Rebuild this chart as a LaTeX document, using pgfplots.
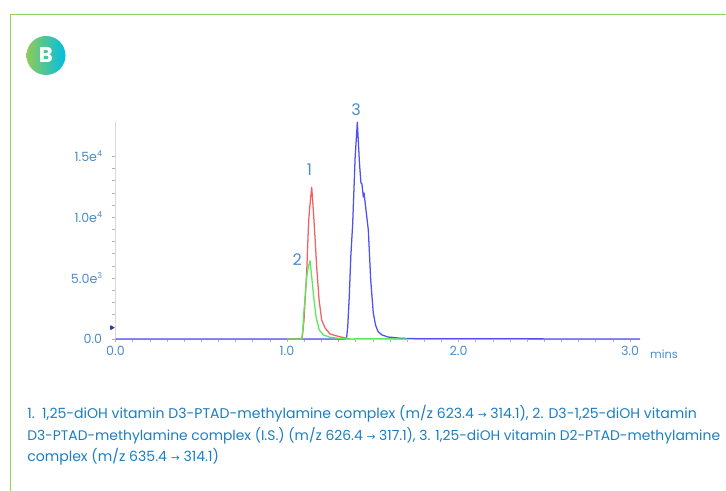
\documentclass[border=0pt]{standalone}
\usepackage{fontspec}
\setmainfont{Poppins}
\newfontfamily\sym{DejaVu Sans}
\usepackage{pgfplots}
\pgfplotsset{compat=1.18}
\definecolor{framegreen}{HTML}{8FD45F}
\definecolor{axlab}{HTML}{4C8CCB}
\definecolor{cap}{HTML}{1B7EC2}
\definecolor{lblue}{HTML}{4F4FF2}
\definecolor{lred}{HTML}{F26060}
\definecolor{lgreen}{HTML}{5CE85C}
\definecolor{bleft}{HTML}{8FCB5A}
\definecolor{bright}{HTML}{00BEE2}
\newcommand{\arr}{{\sym\fontsize{8}{8}\selectfont →}}
\newcommand{\sups}[1]{\raisebox{0.8ex}{\fontsize{6}{6}\selectfont #1}}
\begin{document}
\begin{tikzpicture}[x=0.75pt,y=0.75pt]
\path[use as bounding box] (0,0) rectangle (726,491);
\draw[framegreen,line width=0.75pt] (10.5,0) -- (10.5,476.5) -- (726,476.5);
\shade[left color=bleft,right color=bright] (46,435.5) circle (19.5);
\node[white,font=\fontsize{16}{16}\selectfont\bfseries] at (46,435.5) {B};
\begin{axis}[
  at={(86.625pt,114pt)},anchor=south west,
  scale only axis,width=393.375pt,height=162.75pt,
  xmin=0,xmax=3.058,ymin=0,ymax=17816,
  scaled y ticks=false,scaled x ticks=false,
  axis x line=bottom,axis y line=left,axis line style={-,draw=black!15,line width=0.7pt},
  xtick={0,1,2,3},xticklabels={0.0,1.0,2.0,3.0},
  ytick={0,5000,10000,15000},
  yticklabels={0.0\hspace{-6.5pt},5.0e\sups{3},1.0e\sups{4},1.5e\sups{4}},
  minor x tick num=9,minor y tick num=4,
  tick style={draw=black!30,line width=0.4pt},
  major tick length=2.5pt,minor tick length=2.5pt,
  tick align=outside,
  xticklabel style={font=\fontsize{9.5}{10}\selectfont,text=axlab,yshift=0.3pt},
  yticklabel style={font=\fontsize{9.5}{10}\selectfont,text=axlab,xshift=-4pt},
  clip=false,
  every axis plot/.append style={line width=0.95pt,line join=round},
]
\addplot[lblue] coordinates {(0,0)(1.341,0)(1.348,164)(1.354,1000)(1.363,3500)(1.372,6800)(1.383,9500)(1.397,14860)(1.410,17800)(1.422,14530)(1.431,12810)(1.437,12730)(1.445,11660)(1.449,11990)(1.455,11250)(1.474,8950)(1.488,4840)(1.503,2130)(1.516,1150)(1.531,600)(1.554,330)(1.589,160)(1.624,120)(1.659,60)(1.776,20)(3.058,0)};
\addplot[lred] coordinates {(1.0,0)(1.085,0)(1.090,250)(1.099,1560)(1.115,5580)(1.124,8950)(1.128,10040)(1.137,11500)(1.144,12450)(1.153,10670)(1.163,8400)(1.173,5930)(1.187,3200)(1.202,1560)(1.222,900)(1.251,410)(1.290,250)(1.338,80)(1.367,0)};
\addplot[lgreen] coordinates {(1.0,0)(1.085,0)(1.092,740)(1.099,2380)(1.115,5110)(1.124,5930)(1.134,6430)(1.144,5100)(1.153,3780)(1.169,1830)(1.188,740)(1.212,330)(1.251,140)(1.309,40)(1.367,0)(1.45,30)(1.55,20)(1.70,0)};
\addplot[only marks,mark=triangle*,mark size=1.4pt,lblue!70!black,mark options={rotate=-90}] coordinates {(-0.022,930)};
\node[text=axlab,font=\fontsize{12}{12}\selectfont] at (axis cs:1.403,18850) {3};
\node[text=axlab,font=\fontsize{12}{12}\selectfont] at (axis cs:1.130,13900) {1};
\node[text=axlab,font=\fontsize{12}{12}\selectfont] at (axis cs:1.060,6550) {2};
\end{axis}
\node[text=axlab,font=\fontsize{8.5}{9}\selectfont] at (664,137) {mins};
\begin{scope}[every node/.style={anchor=west,inner sep=0pt,text=cap}]
\node[font=\fontsize{10.55}{11}\selectfont] at (27,77) {1.\ \ 1,25-diOH vitamin D3-PTAD-methylamine complex (m/z 623.4 \arr{} 314.1), 2. D3-1,25-diOH vitamin};
\node[font=\fontsize{10.4}{11}\selectfont] at (27,55) {D3-PTAD-methylamine complex (I.S.) (m/z 626.4 \arr{} 317.1), 3. 1,25-diOH vitamin D2-PTAD-methylamine};
\node[font=\fontsize{10.55}{11}\selectfont] at (27,34) {complex (m/z 635.4 \arr{} 314.1)};
\end{scope}
\end{tikzpicture}
\end{document}
